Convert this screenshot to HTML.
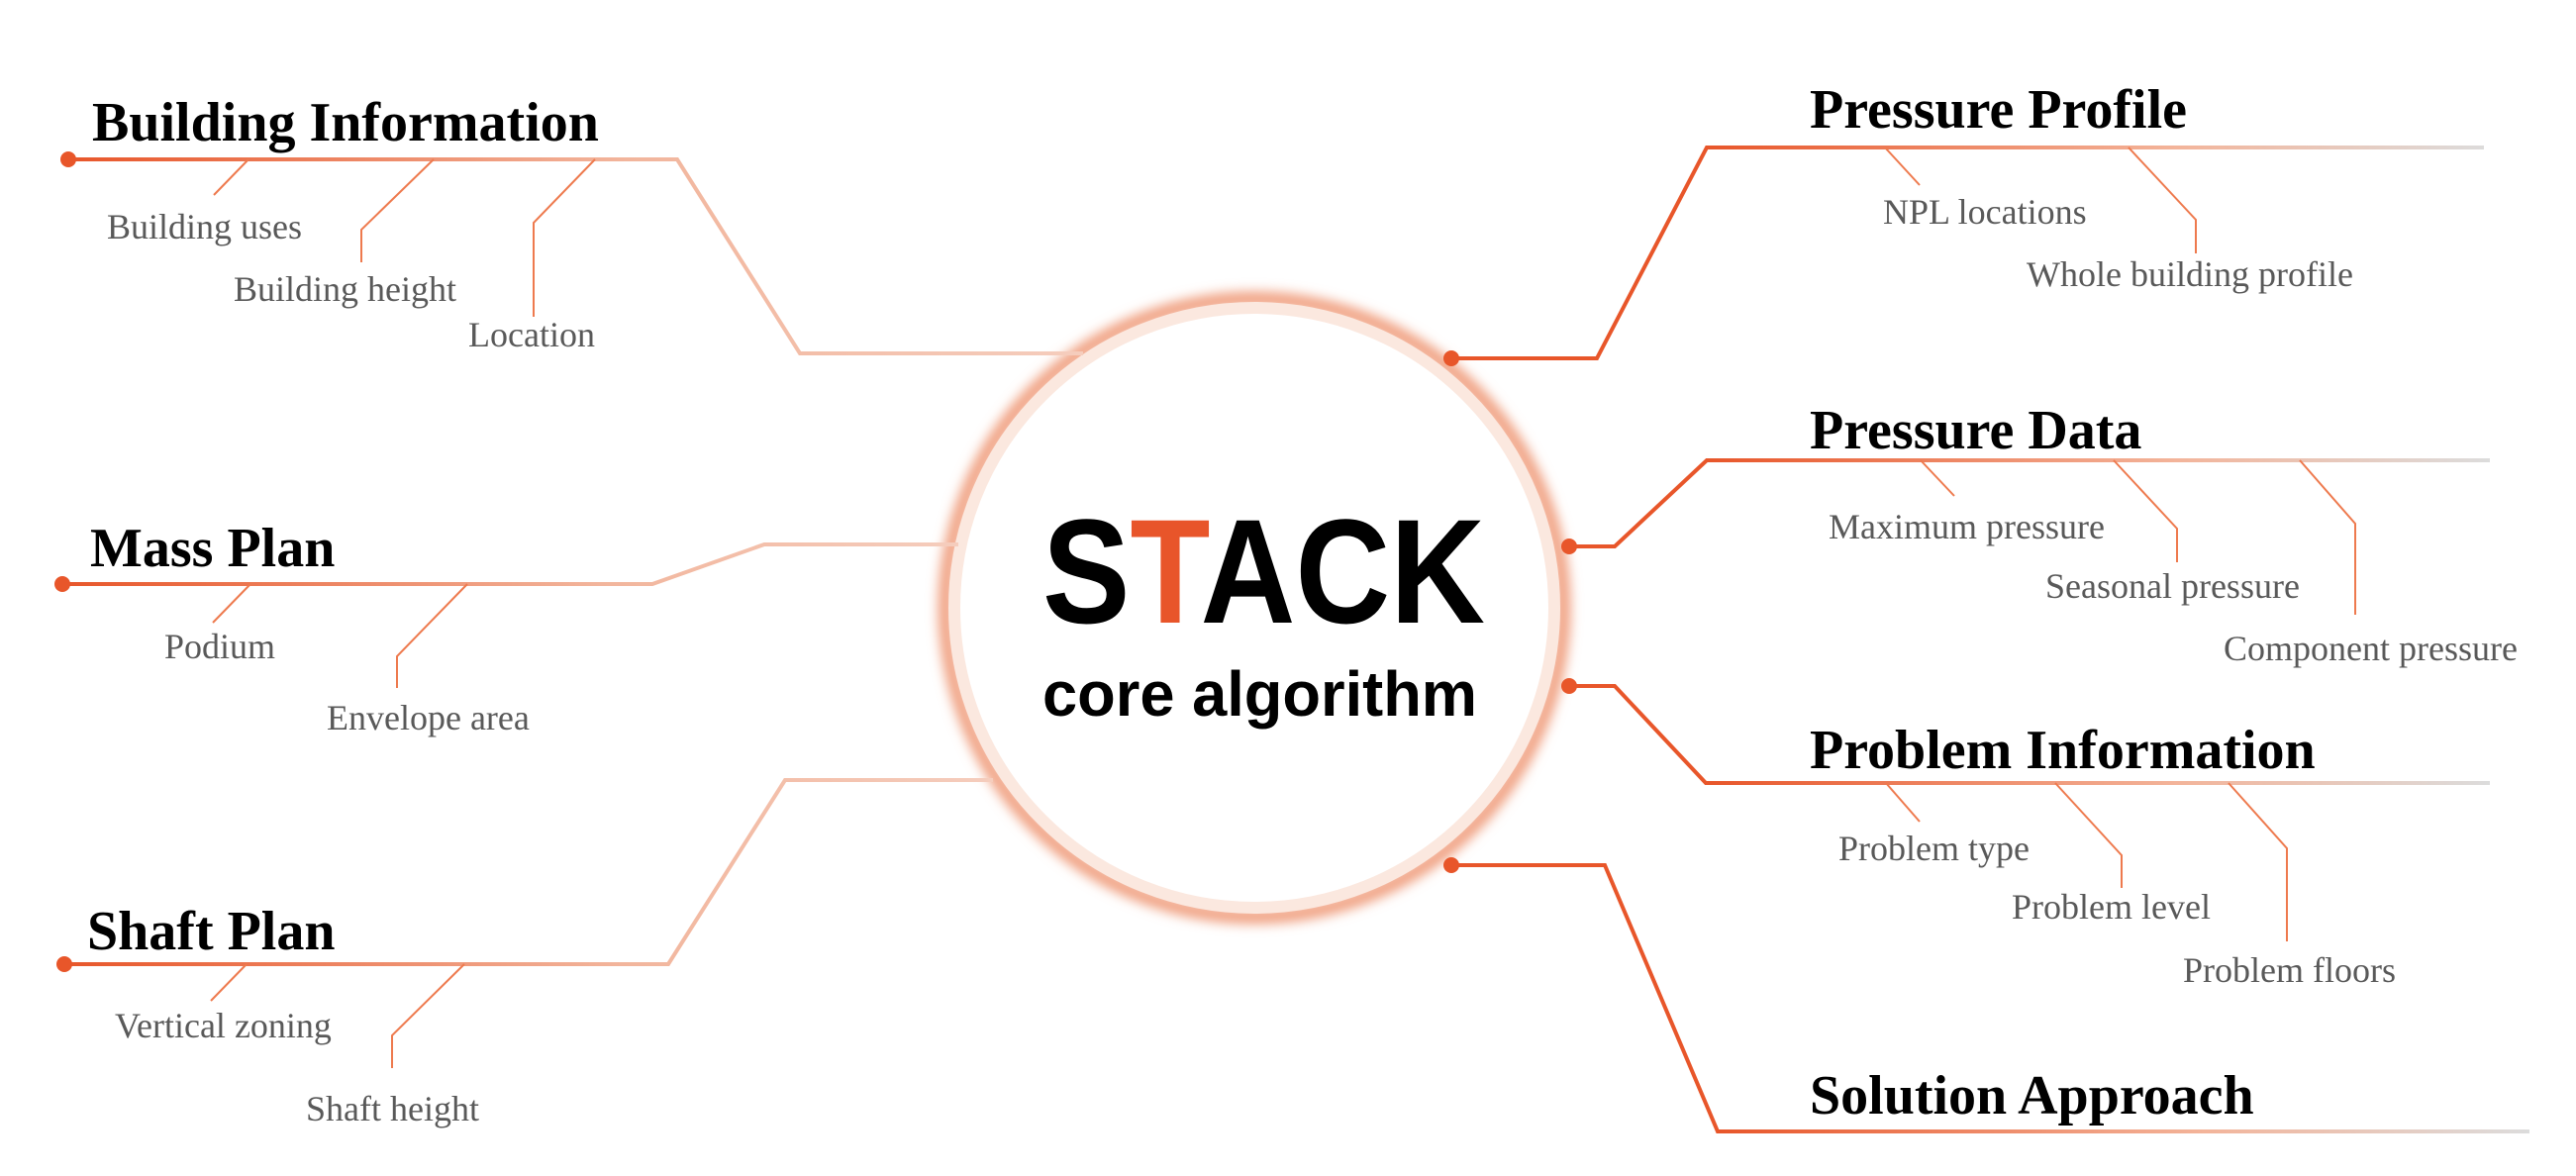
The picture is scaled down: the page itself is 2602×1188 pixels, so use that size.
<!DOCTYPE html>
<html><head><meta charset="utf-8"><style>
html,body{margin:0;padding:0;background:#fff;}
svg{display:block}
.h{font-family:"Liberation Serif",serif;font-weight:bold;font-size:56px;fill:#000}
.s{font-family:"Liberation Serif",serif;font-size:36px;fill:#595959}
.sub{stroke:#ee7a4e;stroke-width:2;fill:none}
</style></head><body>
<svg width="2602" height="1188" viewBox="0 0 2602 1188" xmlns="http://www.w3.org/2000/svg">
<defs>
<filter id="blur" x="-20%" y="-20%" width="140%" height="140%"><feGaussianBlur stdDeviation="6"/></filter>
<linearGradient id="gL1" gradientUnits="userSpaceOnUse" x1="69" y1="0" x2="1094" y2="0"><stop offset="0" stop-color="#e8562a"/><stop offset="0.55" stop-color="#f2b59c"/><stop offset="1" stop-color="#f5cdbd"/></linearGradient>
<linearGradient id="gL2" gradientUnits="userSpaceOnUse" x1="63" y1="0" x2="968" y2="0"><stop offset="0" stop-color="#e8562a"/><stop offset="0.6" stop-color="#f2b59c"/><stop offset="1" stop-color="#f5cdbd"/></linearGradient>
<linearGradient id="gL3" gradientUnits="userSpaceOnUse" x1="65" y1="0" x2="1003" y2="0"><stop offset="0" stop-color="#e8562a"/><stop offset="0.6" stop-color="#f2b59c"/><stop offset="1" stop-color="#f5cdbd"/></linearGradient>
<linearGradient id="gR" gradientUnits="userSpaceOnUse" x1="1724" y1="0" x2="2515" y2="0"><stop offset="0" stop-color="#e8562a"/><stop offset="0.6" stop-color="#f3b49a"/><stop offset="1" stop-color="#dcdcdc"/></linearGradient>
<linearGradient id="gR2" gradientUnits="userSpaceOnUse" x1="1735" y1="0" x2="2555" y2="0"><stop offset="0" stop-color="#e8562a"/><stop offset="0.6" stop-color="#f3b49a"/><stop offset="1" stop-color="#dcdcdc"/></linearGradient>
</defs>

<!-- Circle -->
<circle cx="1267" cy="614" r="312" fill="none" stroke="#ef9a78" stroke-width="14" filter="url(#blur)"/>
<circle cx="1267" cy="614" r="303" fill="#fff" stroke="#fbe8df" stroke-width="12"/>

<!-- Left connectors -->
<polyline points="69,161 684,161 808,357 1094,357" fill="none" stroke="url(#gL1)" stroke-width="4"/>
<circle cx="69" cy="161" r="8" fill="#e8562a"/>
<polyline points="63,590 659,590 772,550 968,550" fill="none" stroke="url(#gL2)" stroke-width="4"/>
<circle cx="63" cy="590" r="8" fill="#e8562a"/>
<polyline points="65,974 675,974 793,788 1003,788" fill="none" stroke="url(#gL3)" stroke-width="4"/>
<circle cx="65" cy="974" r="8" fill="#e8562a"/>

<!-- Left subs -->
<polyline class="sub" points="251,161 216,197"/>
<polyline class="sub" points="438,161 365,232 365,265"/>
<polyline class="sub" points="601,161 539,225 539,320"/>
<polyline class="sub" points="253,590 215,629"/>
<polyline class="sub" points="472,590 401,663 401,695"/>
<polyline class="sub" points="249,974 213,1011"/>
<polyline class="sub" points="469,974 396,1046 396,1079"/>

<text class="h" x="93" y="142">Building Information</text>
<text class="s" x="108" y="241">Building uses</text>
<text class="s" x="236" y="304">Building height</text>
<text class="s" x="473" y="350">Location</text>
<text class="h" x="91" y="572">Mass Plan</text>
<text class="s" x="166" y="665">Podium</text>
<text class="s" x="330" y="737">Envelope area</text>
<text class="h" x="88" y="959">Shaft Plan</text>
<text class="s" x="116" y="1048">Vertical zoning</text>
<text class="s" x="309" y="1132">Shaft height</text>

<!-- Right connectors -->
<polyline points="1466,362 1613,362 1724,149 2509,149" fill="none" stroke="url(#gR)" stroke-width="4"/>
<circle cx="1466" cy="362" r="8" fill="#e8562a"/>
<polyline points="1585,552 1631,552 1724,465 2515,465" fill="none" stroke="url(#gR)" stroke-width="4"/>
<circle cx="1585" cy="552" r="8" fill="#e8562a"/>
<polyline points="1585,693 1631,693 1723,791 2515,791" fill="none" stroke="url(#gR)" stroke-width="4"/>
<circle cx="1585" cy="693" r="8" fill="#e8562a"/>
<polyline points="1466,874 1621,874 1735,1143 2555,1143" fill="none" stroke="url(#gR2)" stroke-width="4"/>
<circle cx="1466" cy="874" r="8" fill="#e8562a"/>

<polyline class="sub" points="1904,149 1939,187"/>
<polyline class="sub" points="2150,149 2218,222 2218,256"/>
<polyline class="sub" points="1940,465 1974,501"/>
<polyline class="sub" points="2135,465 2199,534 2199,568"/>
<polyline class="sub" points="2323,465 2379,529 2379,621"/>
<polyline class="sub" points="1905,791 1939,830"/>
<polyline class="sub" points="2076,791 2143,864 2143,897"/>
<polyline class="sub" points="2251,791 2310,857 2310,951"/>

<text class="h" x="1828" y="129">Pressure Profile</text>
<text class="s" x="1902" y="226">NPL locations</text>
<text class="s" x="2047" y="289">Whole building profile</text>
<text class="h" x="1828" y="453">Pressure Data</text>
<text class="s" x="1847" y="544">Maximum pressure</text>
<text class="s" x="2066" y="604">Seasonal pressure</text>
<text class="s" x="2246" y="667">Component pressure</text>
<text class="h" x="1828" y="776">Problem Information</text>
<text class="s" x="1857" y="869">Problem type</text>
<text class="s" x="2032" y="928">Problem level</text>
<text class="s" x="2205" y="992">Problem floors</text>
<text class="h" x="1828" y="1125">Solution Approach</text>

<!-- Center text -->
<text x="1053" y="629" font-family="Liberation Sans, sans-serif" font-weight="bold" font-size="150" textLength="447" lengthAdjust="spacingAndGlyphs" fill="#000">S<tspan fill="#e8552a">T</tspan>ACK</text>
<text x="1053" y="723" font-family="Liberation Sans, sans-serif" font-weight="bold" font-size="64" textLength="439" lengthAdjust="spacingAndGlyphs" fill="#000">core algorithm</text>
</svg>
</body></html>
